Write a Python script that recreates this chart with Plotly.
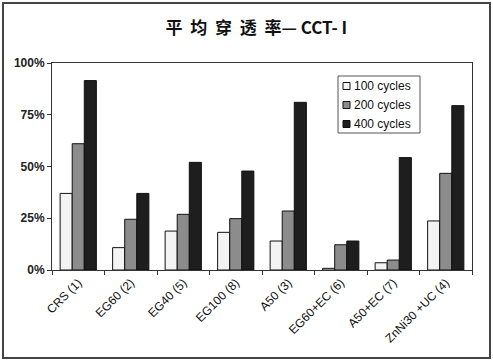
import plotly.graph_objects as go

categories = ["CRS (1)", "EG60 (2)", "EG40 (5)", "EG100 (8)", "A50 (3)", "EG60+EC (6)", "A50+EC (7)", "ZnNi30 +UC (4)"]
c100 = [37, 10.8, 18.8, 18.2, 14, 0.8, 3.5, 23.7]
c200 = [61, 24.5, 26.9, 24.8, 28.5, 12.2, 4.8, 46.7]
c400 = [91.5, 37, 52, 47.8, 81, 14, 54.3, 79.4]
series_names = ["100 cycles", "200 cycles", "400 cycles"]
series_colors = ["#f3f3f3", "#8c8c8c", "#1e1e1e"]
yticks = [0, 25, 50, 75, 100]
ytick_text = ["<b>0%</b>", "<b>25%</b>", "<b>50%</b>", "<b>75%</b>", "<b>100%</b>"]
title_text = "<b>平  均  穿  透  率— CCT- I</b>"

L, R, T, B = 52, 21, 63, 92
W, H = 493, 362
pw, ph = W - L - R, H - T - B

def px_x(x):
    return (x - L) / pw

def px_y(y):
    return (H - B - y) / ph

fig = go.Figure()
for name, vals, col in zip(series_names, [c100, c200, c400], series_colors):
    fig.add_trace(go.Bar(x=categories, y=vals, name=name,
                         marker=dict(color=col, line=dict(color="#111", width=1))))

shapes = [dict(type="rect", xref="paper", yref="paper",
               x0=px_x(3), x1=px_x(490), y0=px_y(358), y1=px_y(3),
               line=dict(color="#444", width=2), fillcolor="rgba(0,0,0,0)", layer="below"),
          dict(type="rect", xref="paper", yref="paper",
               x0=px_x(338), x1=px_x(420), y0=px_y(133), y1=px_y(76),
               line=dict(color="#555", width=1), fillcolor="white")]
annotations = []
row_y = [86, 105, 124]
for name, col, ry in zip(series_names, series_colors, row_y):
    shapes.append(dict(type="rect", xref="paper", yref="paper",
                       x0=px_x(343), x1=px_x(350), y0=px_y(ry + 3.5), y1=px_y(ry - 3.5),
                       line=dict(color="#111", width=1), fillcolor=col))
    annotations.append(dict(text=name, xref="paper", yref="paper", x=px_x(352), y=px_y(ry),
                            xanchor="left", yanchor="middle", showarrow=False,
                            font=dict(size=12, color="#111")))

fig.update_layout(
    width=W, height=H,
    margin=dict(l=L, r=R, t=T, b=B),
    paper_bgcolor="white", plot_bgcolor="white",
    barmode="group", bargap=0.31, bargroupgap=0,
    font=dict(family="Arial, Liberation Sans, sans-serif", color="#222"),
    title=dict(text=title_text, x=0.52, xanchor="center", y=0.922, yanchor="middle",
               font=dict(family="Noto Sans CJK SC", size=17, color="#111")),
    showlegend=False,
    xaxis=dict(showline=True, linecolor="#333", linewidth=1, mirror=True, automargin=False,
               ticks="outside", tickson="boundaries", ticklen=4, tickcolor="#333",
               tickangle=-45, tickfont=dict(size=12, color="#111")),
    yaxis=dict(range=[0, 100], tickvals=yticks, ticktext=ytick_text, automargin=False,
               showline=True, linecolor="#333", linewidth=1, mirror=True,
               ticks="outside", ticklen=4, tickcolor="#333", showgrid=False,
               zeroline=False, tickfont=dict(size=12, color="#222")),
    shapes=shapes,
    annotations=annotations,
)

fig.write_html("out.html", config={"displayModeBar": False},
               post_script="document.body.style.margin='0px';document.body.style.overflow='hidden';")
